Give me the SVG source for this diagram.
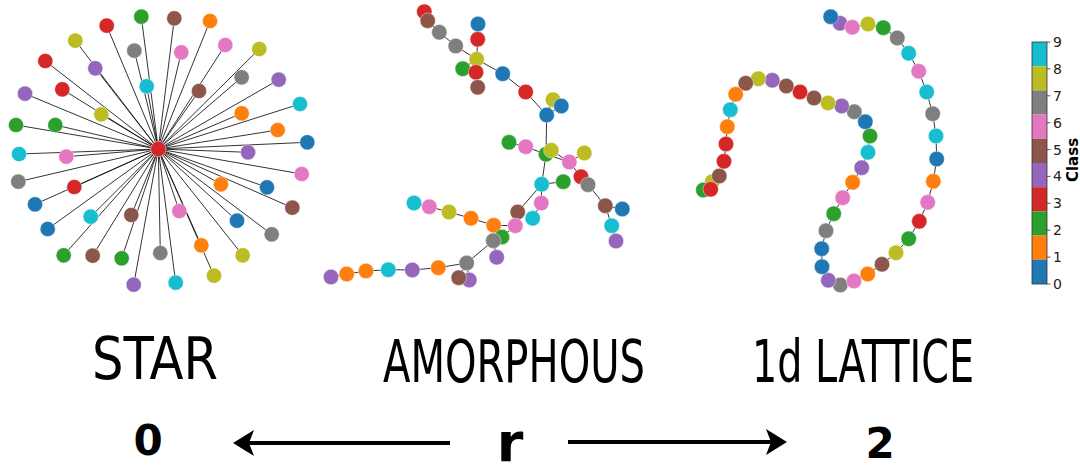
<svg xmlns="http://www.w3.org/2000/svg" width="1080" height="466" viewBox="0 0 1080 466">
  <style>
    .c0{fill:#1f77b4}.c1{fill:#ff7f0e}.c2{fill:#2ca02c}.c3{fill:#d62728}.c4{fill:#9467bd}
    .c5{fill:#8c564b}.c6{fill:#e377c2}.c7{fill:#7f7f7f}.c8{fill:#bcbd22}.c9{fill:#17becf}
    .nodes circle{stroke:#ffffff;stroke-width:0.6;stroke-opacity:0.7}
    .edge{stroke:#111;stroke-width:1;fill:none;stroke-opacity:0.85}
    .title{font-family:"DejaVu Sans Condensed","DejaVu Sans",sans-serif;font-size:58px;fill:#000}
    .big{font-family:"DejaVu Sans",sans-serif;font-weight:bold;fill:#000}
    .tick{font-family:"DejaVu Sans",sans-serif;font-size:14px;fill:#222}
    .arrow{stroke:#000;stroke-width:4;fill:none}
  </style>

  <!-- Star graph: one hub and 49 leaves -->
  <g id="connectors-star" class="edge">
    <path d="M158.3 149L141.3 16.7M158.3 149L174.3 18.3M158.3 149L210 21M158.3 149L106.7 25.7M158.3 149L75.3 40.7M158.3 149L134.3 50.7M158.3 149L181.3 52.3M158.3 149L225.3 45M158.3 149L259.3 49M158.3 149L45.3 61M158.3 149L95.3 68.3M158.3 149L241.7 77.3M158.3 149L278.7 79.7M158.3 149L146.7 86.3M158.3 149L199 91M158.3 149L62.3 89.3M158.3 149L25 93.7M158.3 149L101.3 114.3M158.3 149L241.7 113.3M158.3 149L300 104M158.3 149L16 125M158.3 149L55.3 125M158.3 149L277.7 130M158.3 149L307.3 142.3M158.3 149L19 154M158.3 149L66.3 156.7M158.3 149L248 152.3M158.3 149L301.7 174M158.3 149L18.3 181.7M158.3 149L74.3 187M158.3 149L221 184.3M158.3 149L267 187.3M158.3 149L35 204.3M158.3 149L292.3 207.7M158.3 149L90.7 216.7M158.3 149L131.3 215M158.3 149L179.3 211M158.3 149L237 220.7M158.3 149L47.7 229M158.3 149L271.7 234.3M158.3 149L63.7 255.3M158.3 149L92.7 255.7M158.3 149L121.7 258.3M158.3 149L160.3 253M158.3 149L201.3 245.3M158.3 149L242.7 255.3M158.3 149L133.7 284.7M158.3 149L175.7 282.7M158.3 149L214 275.7"/>
  </g>
  <g id="star-nodes" class="nodes">
    <circle id="s-hub" class="c3" cx="158.3" cy="149" r="7.7"/>
    <circle class="c2" cx="141.3" cy="16.7" r="7.6"/>
    <circle class="c5" cx="174.3" cy="18.3" r="7.6"/>
    <circle class="c1" cx="210" cy="21" r="7.6"/>
    <circle class="c3" cx="106.7" cy="25.7" r="7.6"/>
    <circle class="c8" cx="75.3" cy="40.7" r="7.6"/>
    <circle class="c7" cx="134.3" cy="50.7" r="7.6"/>
    <circle class="c6" cx="181.3" cy="52.3" r="7.6"/>
    <circle class="c6" cx="225.3" cy="45" r="7.6"/>
    <circle class="c8" cx="259.3" cy="49" r="7.6"/>
    <circle class="c3" cx="45.3" cy="61" r="7.6"/>
    <circle class="c4" cx="95.3" cy="68.3" r="7.6"/>
    <circle class="c7" cx="241.7" cy="77.3" r="7.6"/>
    <circle class="c4" cx="278.7" cy="79.7" r="7.6"/>
    <circle class="c9" cx="146.7" cy="86.3" r="7.6"/>
    <circle class="c5" cx="199" cy="91" r="7.6"/>
    <circle class="c3" cx="62.3" cy="89.3" r="7.6"/>
    <circle class="c4" cx="25" cy="93.7" r="7.6"/>
    <circle class="c8" cx="101.3" cy="114.3" r="7.6"/>
    <circle class="c1" cx="241.7" cy="113.3" r="7.6"/>
    <circle class="c9" cx="300" cy="104" r="7.6"/>
    <circle class="c2" cx="16" cy="125" r="7.6"/>
    <circle class="c2" cx="55.3" cy="125" r="7.6"/>
    <circle class="c1" cx="277.7" cy="130" r="7.6"/>
    <circle class="c0" cx="307.3" cy="142.3" r="7.6"/>
    <circle class="c9" cx="19" cy="154" r="7.6"/>
    <circle class="c6" cx="66.3" cy="156.7" r="7.6"/>
    <circle class="c4" cx="248" cy="152.3" r="7.6"/>
    <circle class="c6" cx="301.7" cy="174" r="7.6"/>
    <circle class="c7" cx="18.3" cy="181.7" r="7.6"/>
    <circle class="c3" cx="74.3" cy="187" r="7.6"/>
    <circle class="c1" cx="221" cy="184.3" r="7.6"/>
    <circle class="c0" cx="267" cy="187.3" r="7.6"/>
    <circle class="c0" cx="35" cy="204.3" r="7.6"/>
    <circle class="c5" cx="292.3" cy="207.7" r="7.6"/>
    <circle class="c9" cx="90.7" cy="216.7" r="7.6"/>
    <circle class="c5" cx="131.3" cy="215" r="7.6"/>
    <circle class="c6" cx="179.3" cy="211" r="7.6"/>
    <circle class="c0" cx="237" cy="220.7" r="7.6"/>
    <circle class="c0" cx="47.7" cy="229" r="7.6"/>
    <circle class="c7" cx="271.7" cy="234.3" r="7.6"/>
    <circle class="c2" cx="63.7" cy="255.3" r="7.6"/>
    <circle class="c5" cx="92.7" cy="255.7" r="7.6"/>
    <circle class="c2" cx="121.7" cy="258.3" r="7.6"/>
    <circle class="c7" cx="160.3" cy="253" r="7.6"/>
    <circle class="c1" cx="201.3" cy="245.3" r="7.6"/>
    <circle class="c8" cx="242.7" cy="255.3" r="7.6"/>
    <circle class="c4" cx="133.7" cy="284.7" r="7.6"/>
    <circle class="c9" cx="175.7" cy="282.7" r="7.6"/>
    <circle class="c8" cx="214" cy="275.7" r="7.6"/>
  </g>

  <!-- Amorphous tree -->
  <g id="connectors-amorphous" class="edge">
    <path d="M424.3 11.7L427.7 20.7L439.3 32.3L455.7 46L476.7 59.3L502.7 73.7L525.7 92L546.7 115L546 154.3L541.7 184.3L517.7 212L515.3 225.7L502 237L493.3 240.7L466.7 263L438.3 267.7L412.3 270L388.3 269.7L366 271L346.7 274L331 277"/>
    <path d="M478 24L477.7 39.3L476.7 59.3L476 72.3L477.7 87.3M476.7 59.3L462.7 68.7"/>
    <path d="M553 99.7L546.7 115L561.3 106"/>
    <path d="M509 142.3L525.7 146.7L546 154.3L569.3 162L581 176.7L588 184.7L605.3 205.7L622.3 209M605.3 205.7L611.7 225.7L616 241M551.3 150.3L569.3 162L584.3 153"/>
    <path d="M541.7 184.3L563.3 181.7M541.7 184.3L541.3 203L532.7 218.3"/>
    <path d="M515.3 225.7L493.7 225.3L471 218.3L449 212L429.3 206.7L414 203"/>
    <path d="M493.3 240.7L496.7 257.3M466.7 263L469.3 280M466.7 263L458.7 277.7"/>
  </g>
  <g id="amorphous-nodes" class="nodes">
    <circle class="c3" cx="424.3" cy="11.7" r="7.7"/>
    <circle class="c5" cx="427.7" cy="20.7" r="7.7"/>
    <circle class="c7" cx="439.3" cy="32.3" r="7.7"/>
    <circle class="c7" cx="455.7" cy="46" r="7.7"/>
    <circle class="c0" cx="478" cy="24" r="7.7"/>
    <circle class="c3" cx="477.7" cy="39.3" r="7.7"/>
    <circle class="c8" cx="476.7" cy="59.3" r="7.7"/>
    <circle class="c2" cx="462.7" cy="68.7" r="7.7"/>
    <circle class="c3" cx="476" cy="72.3" r="7.7"/>
    <circle class="c5" cx="477.7" cy="87.3" r="7.7"/>
    <circle class="c0" cx="502.7" cy="73.7" r="7.7"/>
    <circle class="c3" cx="525.7" cy="92" r="7.7"/>
    <circle class="c8" cx="553" cy="99.7" r="7.7"/>
    <circle class="c0" cx="561.3" cy="106" r="7.7"/>
    <circle class="c0" cx="546.7" cy="115" r="7.7"/>
    <circle class="c2" cx="509" cy="142.3" r="7.7"/>
    <circle class="c6" cx="525.7" cy="146.7" r="7.7"/>
    <circle class="c2" cx="546" cy="154.3" r="7.7"/>
    <circle class="c8" cx="551.3" cy="150.3" r="7.7"/>
    <circle class="c8" cx="584.3" cy="153" r="7.7"/>
    <circle class="c6" cx="569.3" cy="162" r="7.7"/>
    <circle class="c3" cx="581" cy="176.7" r="7.7"/>
    <circle class="c7" cx="588" cy="184.7" r="7.7"/>
    <circle class="c9" cx="541.7" cy="184.3" r="7.7"/>
    <circle class="c2" cx="563.3" cy="181.7" r="7.7"/>
    <circle class="c5" cx="605.3" cy="205.7" r="7.7"/>
    <circle class="c0" cx="622.3" cy="209" r="7.7"/>
    <circle class="c9" cx="611.7" cy="225.7" r="7.7"/>
    <circle class="c4" cx="616" cy="241" r="7.7"/>
    <circle class="c6" cx="541.3" cy="203" r="7.7"/>
    <circle class="c9" cx="532.7" cy="218.3" r="7.7"/>
    <circle class="c5" cx="517.7" cy="212" r="7.7"/>
    <circle class="c1" cx="493.7" cy="225.3" r="7.7"/>
    <circle class="c2" cx="502" cy="237" r="7.7"/>
    <circle class="c6" cx="515.3" cy="225.7" r="7.7"/>
    <circle class="c7" cx="493.3" cy="240.7" r="7.7"/>
    <circle class="c4" cx="496.7" cy="257.3" r="7.7"/>
    <circle class="c1" cx="471" cy="218.3" r="7.7"/>
    <circle class="c8" cx="449" cy="212" r="7.7"/>
    <circle class="c6" cx="429.3" cy="206.7" r="7.7"/>
    <circle class="c9" cx="414" cy="203" r="7.7"/>
    <circle class="c7" cx="466.7" cy="263" r="7.7"/>
    <circle class="c4" cx="469.3" cy="280" r="7.7"/>
    <circle class="c5" cx="458.7" cy="277.7" r="7.7"/>
    <circle class="c1" cx="438.3" cy="267.7" r="7.7"/>
    <circle class="c4" cx="412.3" cy="270" r="7.7"/>
    <circle class="c9" cx="388.3" cy="269.7" r="7.7"/>
    <circle class="c1" cx="366" cy="271" r="7.7"/>
    <circle class="c1" cx="346.7" cy="274" r="7.7"/>
    <circle class="c4" cx="331" cy="277" r="7.7"/>
  </g>

  <!-- 1d lattice: a single chain of 50 nodes -->
  <g id="connectors-lattice" class="edge">
    <polyline points="830.7,16.7 840,23.3 852.3,27.3 868,24 883.3,27.7 897.3,38 908.7,53.3 918.7,71.3 926.7,92 932.7,113.7 936,136 936.7,159 933.3,181.3 927.7,202.3 919.3,221.3 908.7,238.7 896,252.7 882,264.3 867.7,274 854,281 840.3,285 828.3,280.3 822,266.7 821.7,248.7 826,230.7 833.7,213.7 842.7,197.7 852.7,182.3 861.7,167.7 868,152.3 870,136 865.3,121.7 854.3,111.7 841.7,106 828,103 814,98 800,92 786.3,86 772.3,80.3 758.3,78.7 745.7,83.3 735.7,94.3 730.3,109.7 727.3,126.7 726,144 724,161.3 719.3,176 712.3,181.7 703.3,190 710.7,189.3"/>
  </g>
  <g id="lattice-nodes" class="nodes">
    <circle class="c4" cx="840" cy="23.3" r="7.7"/>
    <circle class="c0" cx="830.7" cy="16.7" r="7.7"/>
    <circle class="c6" cx="852.3" cy="27.3" r="7.7"/>
    <circle class="c8" cx="868" cy="24" r="7.7"/>
    <circle class="c2" cx="883.3" cy="27.7" r="7.7"/>
    <circle class="c7" cx="897.3" cy="38" r="7.7"/>
    <circle class="c9" cx="908.7" cy="53.3" r="7.7"/>
    <circle class="c6" cx="918.7" cy="71.3" r="7.7"/>
    <circle class="c9" cx="926.7" cy="92" r="7.7"/>
    <circle class="c7" cx="932.7" cy="113.7" r="7.7"/>
    <circle class="c9" cx="936" cy="136" r="7.7"/>
    <circle class="c0" cx="936.7" cy="159" r="7.7"/>
    <circle class="c1" cx="933.3" cy="181.3" r="7.7"/>
    <circle class="c6" cx="927.7" cy="202.3" r="7.7"/>
    <circle class="c3" cx="919.3" cy="221.3" r="7.7"/>
    <circle class="c2" cx="908.7" cy="238.7" r="7.7"/>
    <circle class="c8" cx="896" cy="252.7" r="7.7"/>
    <circle class="c5" cx="882" cy="264.3" r="7.7"/>
    <circle class="c1" cx="867.7" cy="274" r="7.7"/>
    <circle class="c7" cx="840.3" cy="285" r="7.7"/>
    <circle class="c6" cx="854" cy="281" r="7.7"/>
    <circle class="c4" cx="828.3" cy="280.3" r="7.7"/>
    <circle class="c0" cx="822" cy="266.7" r="7.7"/>
    <circle class="c0" cx="821.7" cy="248.7" r="7.7"/>
    <circle class="c7" cx="826" cy="230.7" r="7.7"/>
    <circle class="c2" cx="833.7" cy="213.7" r="7.7"/>
    <circle class="c6" cx="842.7" cy="197.7" r="7.7"/>
    <circle class="c1" cx="852.7" cy="182.3" r="7.7"/>
    <circle class="c4" cx="861.7" cy="167.7" r="7.7"/>
    <circle class="c9" cx="868" cy="152.3" r="7.7"/>
    <circle class="c2" cx="870" cy="136" r="7.7"/>
    <circle class="c0" cx="865.3" cy="121.7" r="7.7"/>
    <circle class="c7" cx="854.3" cy="111.7" r="7.7"/>
    <circle class="c4" cx="841.7" cy="106" r="7.7"/>
    <circle class="c8" cx="828" cy="103" r="7.7"/>
    <circle class="c5" cx="814" cy="98" r="7.7"/>
    <circle class="c3" cx="800" cy="92" r="7.7"/>
    <circle class="c5" cx="786.3" cy="86" r="7.7"/>
    <circle class="c4" cx="772.3" cy="80.3" r="7.7"/>
    <circle class="c8" cx="758.3" cy="78.7" r="7.7"/>
    <circle class="c5" cx="745.7" cy="83.3" r="7.7"/>
    <circle class="c1" cx="735.7" cy="94.3" r="7.7"/>
    <circle class="c9" cx="730.3" cy="109.7" r="7.7"/>
    <circle class="c1" cx="727.3" cy="126.7" r="7.7"/>
    <circle class="c3" cx="726" cy="144" r="7.7"/>
    <circle class="c3" cx="724" cy="161.3" r="7.7"/>
    <circle class="c8" cx="712.3" cy="181.7" r="7.7"/>
    <circle class="c5" cx="719.3" cy="176" r="7.7"/>
    <circle class="c2" cx="703.3" cy="190" r="7.7"/>
    <circle class="c3" cx="710.7" cy="189.3" r="7.7"/>
  </g>

  <!-- Colour bar for the class index -->
  <g id="colorbar">
    <rect class="c9" x="1032" y="42" width="15" height="24.2"/>
    <rect class="c8" x="1032" y="66.2" width="15" height="24.2"/>
    <rect class="c7" x="1032" y="90.4" width="15" height="24.2"/>
    <rect class="c6" x="1032" y="114.6" width="15" height="24.2"/>
    <rect class="c5" x="1032" y="138.8" width="15" height="24.2"/>
    <rect class="c4" x="1032" y="163" width="15" height="24.2"/>
    <rect class="c3" x="1032" y="187.2" width="15" height="24.2"/>
    <rect class="c2" x="1032" y="211.4" width="15" height="24.2"/>
    <rect class="c1" x="1032" y="235.6" width="15" height="24.2"/>
    <rect class="c0" x="1032" y="259.8" width="15" height="24.2"/>
    <rect x="1032" y="42" width="15" height="242" fill="none" stroke="#333" stroke-width="0.8"/>
    <path d="M1047 284h3.5M1047 257.1h3.5M1047 230.2h3.5M1047 203.3h3.5M1047 176.4h3.5M1047 149.6h3.5M1047 122.7h3.5M1047 95.8h3.5M1047 68.9h3.5M1047 42h3.5" stroke="#333" stroke-width="0.8"/>
    <g class="tick">
      <text x="1053" y="289">0</text>
      <text x="1053" y="262.1">1</text>
      <text x="1053" y="235.2">2</text>
      <text x="1053" y="208.3">3</text>
      <text x="1053" y="181.4">4</text>
      <text x="1053" y="154.6">5</text>
      <text x="1053" y="127.7">6</text>
      <text x="1053" y="100.8">7</text>
      <text x="1053" y="73.9">8</text>
      <text x="1053" y="47">9</text>
    </g>
    <text transform="translate(1078 160) rotate(-90)" text-anchor="middle" font-family="DejaVu Sans, sans-serif" font-weight="bold" font-size="15" fill="#000">Class</text>
  </g>

  <!-- Graph type labels -->
  <g id="labels">
    <text class="title" x="92" y="379" textLength="126" lengthAdjust="spacingAndGlyphs">STAR</text>
    <text class="title" x="383" y="382" textLength="262" lengthAdjust="spacingAndGlyphs">AMORPHOUS</text>
    <text class="title" x="752" y="382" textLength="222" lengthAdjust="spacingAndGlyphs">1d LATTICE</text>
  </g>

  <!-- r axis: 0 on the left, 2 on the right -->
  <g id="axis">
    <line class="arrow" x1="450" y1="443" x2="246" y2="443"/>
    <path d="M233 443L254 430L249 443L254 456Z" fill="#000"/>
    <line class="arrow" x1="568" y1="442" x2="774" y2="442"/>
    <path d="M787 442L766 429L771 442L766 455Z" fill="#000"/>
    <text class="big" x="148" y="455" font-size="42" text-anchor="middle">0</text>
    <text class="big" x="510" y="461" font-size="54" text-anchor="middle">r</text>
    <text class="big" x="880" y="458" font-size="42" text-anchor="middle">2</text>
  </g>
</svg>
